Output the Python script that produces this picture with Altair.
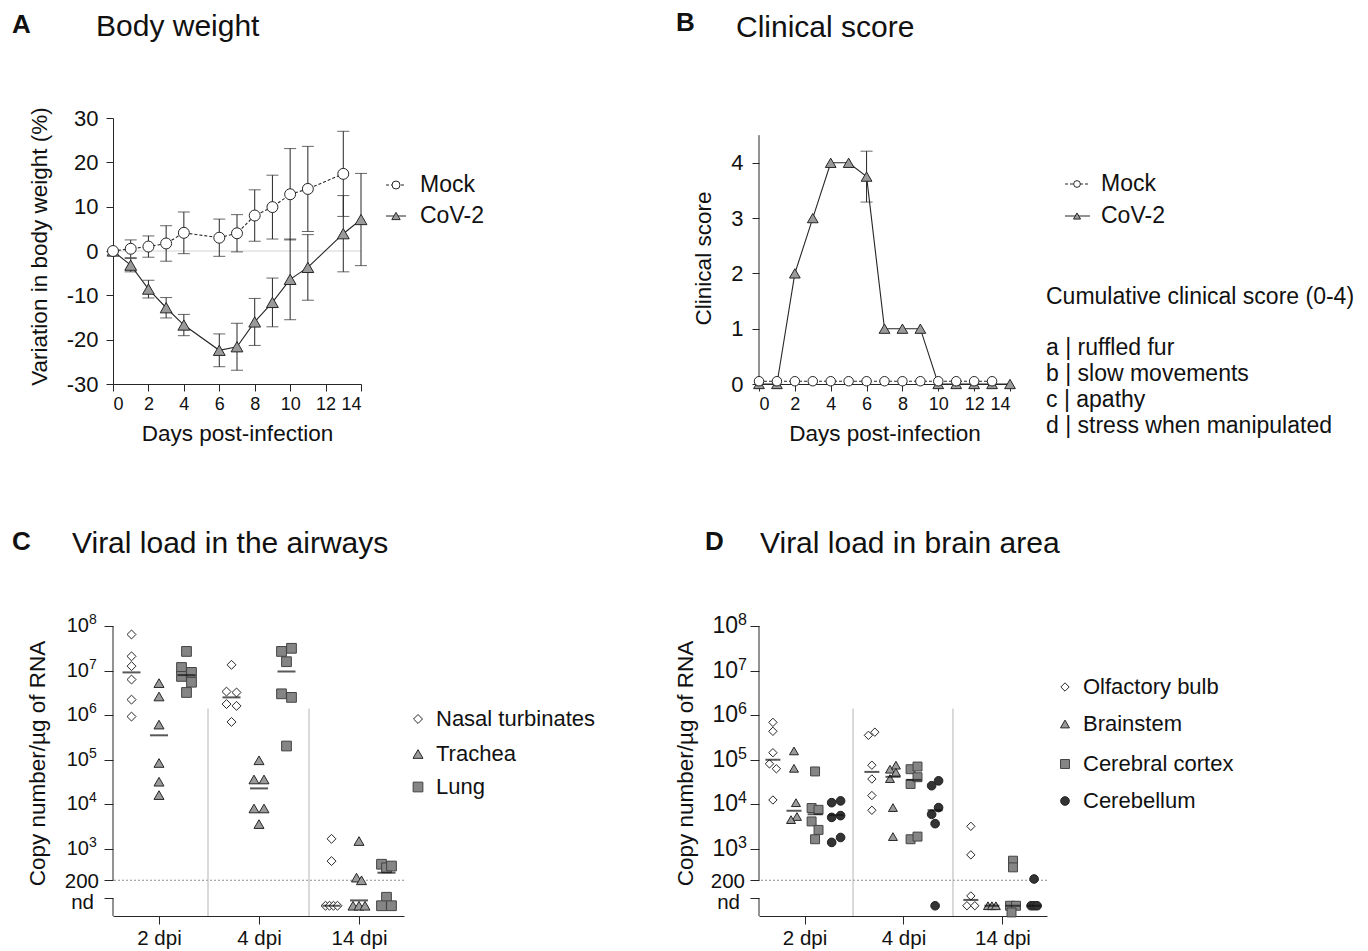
import math
import altair as alt
import pandas as pd

FONT = "Liberation Sans"
INK = "#262626"
TXT = "#111111"

# ======================= A. Body weight =======================
series_names = ["Mock", "CoV-2"]
a_mock_days = [0, 1, 2, 3, 4, 6, 7, 8, 9, 10, 11, 13]
a_mock_mean = [0.0, 0.5, 1.0, 1.7, 4.1, 3.0, 4.0, 8.0, 9.9, 12.8, 14.0, 17.4]
a_mock_sd = [0.0, 2.0, 2.4, 4.0, 4.7, 4.2, 4.2, 5.8, 7.2, 10.3, 9.6, 9.6]
a_cov_days = [0, 1, 2, 3, 4, 6, 7, 8, 9, 10, 11, 13, 14]
a_cov_mean = [0.0, -3.2, -8.6, -12.8, -16.7, -22.4, -21.6, -16.0, -11.6, -6.4, -3.7, 3.9, 7.1]
a_cov_sd = [0.0, 1.5, 2.0, 2.3, 2.4, 3.7, 5.3, 5.3, 5.5, 9.1, 7.4, 8.6, 10.4]
a_x_ticks = [0, 2, 4, 6, 8, 10, 12, 14]
a_y_ticks = [-30, -20, -10, 0, 10, 20, 30]

# ======================= B. Clinical score =======================
b_mock_days = [0, 1, 2, 3, 4, 5, 6, 7, 8, 9, 10, 11, 12, 13]
b_mock_score = [0.05, 0.05, 0.05, 0.05, 0.05, 0.05, 0.05, 0.05, 0.05, 0.05, 0.05, 0.05, 0.05, 0.05]
b_mock_err = [0, 0, 0, 0, 0, 0, 0, 0, 0, 0, 0, 0, 0, 0]
b_cov_days = [0, 1, 2, 3, 4, 5, 6, 7, 8, 9, 10, 11, 12, 13, 14]
b_cov_score = [0, 0, 2, 3, 4, 4, 3.75, 1, 1, 1, 0, 0, 0, 0, 0]
b_cov_err = [0, 0, 0, 0, 0, 0, 0.46, 0, 0, 0, 0, 0, 0, 0, 0]
b_x_ticks = [0, 2, 4, 6, 8, 10, 12, 14]
b_y_ticks = [0, 1, 2, 3, 4]
b_axis_top = 4.5
b_notes_title = "Cumulative clinical score (0-4)"
b_notes = ["a | ruffled fur", "b | slow movements", "c | apathy", "d | stress when manipulated"]

# ======================= C / D. Viral loads (log10 copies/µg RNA; None = nd) =======================
dpi_labels = ["2 dpi", "4 dpi", "14 dpi"]
LOD = 200

airway_tissues = ["Nasal turbinates", "Trachea", "Lung"]
c_nasal = [[7.81, 7.32, 7.10, 6.80, 6.35, 5.97], [7.13, 6.53, 6.51, 6.25, 6.21, 5.85], [3.23, 2.73, None, None, None, None]]
c_trachea = [[6.72, 6.42, 5.79, 4.93, 4.51, 4.21], [4.99, 4.56, 4.56, 3.91, 3.91, 3.56], [3.18, 2.36, 2.30, None, None, None]]
c_lung = [[7.43, 7.07, 6.96, 6.87, 6.74, 6.51], [7.43, 7.50, 7.20, 6.48, 6.40, 5.31], [2.66, 2.58, 2.62, 1.92, None, None]]
c_nasal_lane = [[0, 0, 0, 0, 0, 0], [0, -1, 1, -1, 1, 0], [0, 0, -1.2, -0.4, 0.4, 1.2]]
c_trachea_lane = [[0, 0, 0, 0, 0, 0], [0, -1, 1, -1, 1, 0], [0, -0.5, 0.5, -1.2, 0, 1.2]]
c_lung_lane = [[0, -1, 1, -1, 1, 0], [-1, 1, 0, -1, 1, 0], [-1, 0, 1, 0, -1, 1]]
c_nasal_median = [6.96, 6.40, None]
c_trachea_median = [5.55, 4.36, 1.85]
c_lung_median = [6.90, 6.98, 2.47]

brain_tissues = ["Olfactory bulb", "Brainstem", "Cerebral cortex", "Cerebellum"]
d_olf = [[5.84, 5.64, 5.16, 4.91, 4.80, 4.10], [5.55, 5.62, 4.88, 4.57, 4.20, 3.87], [3.51, 2.87, 1.95, None, None]]
d_bst = [[5.20, 4.81, 4.04, 3.73, 3.66], [4.79, 4.88, 4.58, 4.72, 3.93, 3.28], [None, None, None]]
d_ctx = [[4.74, 3.92, 3.88, 3.62, 3.43, 3.22], [4.79, 4.85, 4.46, 4.61, 3.22, 3.28], [2.74, 2.59, None, None, 1.58]]
d_cbl = [[4.04, 4.08, 3.71, 3.75, 3.15, 3.26], [4.42, 4.53, 3.78, 3.93, 3.57, None], [2.33, None, None, None]]
d_olf_lane = [[0, 0, 0, -0.7, 0.7, 0], [-0.7, 0.6, 0, 0, 0, 0], [0, 0, 0, -0.8, 0.8]]
d_bst_lane = [[0, 0, 0.4, 0.6, -0.6], [-0.6, 0.6, -0.6, 0.6, 0, 0], [-0.8, 0, 0.8]]
d_ctx_lane = [[0, -0.7, 0.7, -0.7, 0.7, 0], [-0.7, 0.7, -0.7, 0.7, -0.7, 0.7], [0, 0, -0.6, 0.6, -0.3]]
d_cbl_lane = [[-0.9, 0.9, -0.9, 0.9, -0.9, 0.9], [-0.7, 0.7, -0.7, 0.7, 0, 0], [0, -0.6, 0, 0.6]]
d_olf_median = [5.00, 4.73, 1.86]
d_bst_median = [3.86, 4.62, None]
d_ctx_median = [3.78, 4.55, None]
d_cbl_median = [3.76, 3.87, None]

LOD_LOG = math.log10(LOD)
ND_LOG = 1.73
ND_TICK = 1.9
LOG_MIN, LOG_MAX = 1.5, 8
log_ticks = [8, 7, 6, 5, 4, 3]
LANE = 0.05


def txt(text, x, y, size, weight="normal", align="left"):
    return alt.Chart(pd.DataFrame({"t": [text]})).mark_text(
        align=align, baseline="middle", font=FONT, fontSize=size, fontWeight=weight, color=TXT
    ).encode(x=alt.value(x), y=alt.value(y), text="t:N")


def sym(shape, fill, size, x, y, stroke=INK):
    return alt.Chart(pd.DataFrame({"t": [0]})).mark_point(
        shape=shape, filled=True, fill=fill, stroke=stroke, strokeWidth=1, size=size, opacity=1
    ).encode(x=alt.value(x), y=alt.value(y))


def line_legend(name, dash, shape, fill, size, x0, x1, xs, xt, y):
    kw = dict(color=INK, strokeWidth=1)
    if dash:
        kw["strokeDash"] = dash
    rule = alt.Chart(pd.DataFrame({"t": [0]})).mark_rule(**kw).encode(
        x=alt.value(x0), x2=alt.value(x1), y=alt.value(y))
    return [rule, sym(shape, fill, size, xs, y), txt(name, xt, y, 23)]


def series_frame(days, mean, err):
    df = pd.DataFrame({"day": days, "v": mean, "e": err})
    df["lo"] = df["v"] - df["e"]
    df["hi"] = df["v"] + df["e"]
    return df


def series_layers(df, xf, yf, shape, fill, dash, size, cap):
    layers = []
    err = df[df["e"] > 0]
    if len(err):
        layers.append(alt.Chart(err).mark_rule(color=INK, strokeWidth=1).encode(
            x=xf("day"), y=yf("lo"), y2=alt.Y2("hi")))
        for f in ("lo", "hi"):
            layers.append(alt.Chart(err).mark_tick(orient="horizontal", size=cap, thickness=1, color=INK).encode(
                x=xf("day"), y=yf(f)))
    kw = dict(color=INK, strokeWidth=1.1)
    if dash:
        kw["strokeDash"] = dash
    layers.append(alt.Chart(df).mark_line(**kw).encode(x=xf("day"), y=yf("v")))
    layers.append(alt.Chart(df).mark_point(shape=shape, filled=True, fill=fill, stroke=INK, strokeWidth=1,
                                           size=size, opacity=1).encode(x=xf("day"), y=yf("v")))
    return layers


# ---------------- Panel A ----------------
A_W, A_H = 248, 266
a_xs = alt.Scale(domain=[0, 14], nice=False, zero=False)
a_ys = alt.Scale(domain=[-30, 30], nice=False, zero=False)
a_xax = alt.Axis(values=a_x_ticks, title="Days post-infection", titleX=A_W / 2, titleY=49,
                 titleBaseline="middle", tickSize=7, labelPadding=4, labelFontSize=18)
a_yax = alt.Axis(values=a_y_ticks, title="Variation in body weight (%)", labelExpr="'' + datum.value",
                 titleX=-74, titleY=128, titleBaseline="middle", tickSize=7, labelPadding=8, labelFontSize=22)


def ax_a(f):
    return alt.X(f + ":Q", scale=a_xs, axis=a_xax)


def ay_a(f):
    return alt.Y(f + ":Q", scale=a_ys, axis=a_yax)


a_mock = series_frame(a_mock_days, a_mock_mean, a_mock_sd)
a_cov = series_frame(a_cov_days, a_cov_mean, a_cov_sd)
layers_a = [alt.Chart(pd.DataFrame({"v": [0]})).mark_rule(color="#d4d4d4", strokeWidth=1).encode(y=ay_a("v"))]
layers_a += series_layers(a_cov, ax_a, ay_a, "triangle-up", "#9a9a9a", None, 140, 12)
layers_a += series_layers(a_mock, ax_a, ay_a, "circle", "white", [3, 2], 120, 12)
layers_a += line_legend(series_names[0], [3, 2], "circle", "white", 64, 273, 293, 283, 307, 67)
layers_a += line_legend(series_names[1], None, "triangle-up", "#9a9a9a", 70, 273, 293, 283, 307, 98)
layers_a += [txt("A", -101, -93, 26, "bold"), txt("Body weight", -17, -91, 30)]
panel_a = alt.layer(*layers_a).properties(width=A_W, height=A_H)

# ---------------- Panel B ----------------
B_W, B_H = 251, 266
b_xs = alt.Scale(domain=[0, 14], nice=False, zero=False)
b_ys = alt.Scale(domain=[0, 4.81], nice=False, zero=False)
b_xax = alt.Axis(values=b_x_ticks, title="Days post-infection", titleX=B_W / 2, titleY=49,
                 titleBaseline="middle", tickSize=7, labelPadding=4, labelFontSize=18)
b_yax = alt.Axis(values=b_y_ticks, title="Clinical score", domain=False,
                 titleX=-56, titleY=140, titleBaseline="middle", tickSize=7, labelPadding=9, labelFontSize=22)


def ax_b(f):
    return alt.X(f + ":Q", scale=b_xs, axis=b_xax)


def ay_b(f):
    return alt.Y(f + ":Q", scale=b_ys, axis=b_yax)


b_mock = series_frame(b_mock_days, b_mock_score, b_mock_err)
b_cov = series_frame(b_cov_days, b_cov_score, b_cov_err)
layers_b = [alt.Chart(pd.DataFrame({"y0": [0], "y1": [b_axis_top]})).mark_rule(color=INK, strokeWidth=1).encode(
    x=alt.value(0), y=ay_b("y0"), y2=alt.Y2("y1"))]
layers_b += series_layers(b_cov, ax_b, ay_b, "triangle-up", "#9a9a9a", None, 115, 12)
layers_b += series_layers(b_mock, ax_b, ay_b, "circle", "white", [3, 2], 90, 12)
layers_b += line_legend(series_names[0], [3, 2], "circle", "white", 45, 306, 331, 318, 342, 66)
layers_b += line_legend(series_names[1], None, "triangle-up", "#9a9a9a", 50, 306, 331, 318, 342, 98)
layers_b += [txt(b_notes_title, 287, 179, 23)]
for i, note in enumerate(b_notes):
    layers_b.append(txt(note, 287, 230 + 26 * i, 23))
layers_b += [txt("B", -83, -95, 26, "bold"), txt("Clinical score", -23, -90, 30)]
panel_b = alt.layer(*layers_b).properties(width=B_W, height=B_H)

# ---------------- Panels C / D ----------------
DPI_LABELS = "[" + ",".join(f"'{d}'" for d in dpi_labels) + "][round(datum.value)]"


def viral_panel(tissues, values, lanes, medians, styles, sub, W, H, ytitle_x, legend_x, legend_ys,
                letter, letter_x, title, title_x, med_len, ten_size, exp_size, ten_x):
    xs = alt.Scale(domain=[-0.46, 2.45], nice=False, zero=False)
    ys = alt.Scale(domain=[LOG_MIN, LOG_MAX], nice=False, zero=False)
    xax = alt.Axis(values=[0, 1, 2], labelExpr=DPI_LABELS, tickSize=8, labelPadding=4, labelFontSize=20.5, title=None)
    yax = alt.Axis(values=log_ticks + [LOD_LOG, ND_TICK], labels=False, domain=False, tickSize=9,
                   title="Copy number/\u00b5g of RNA", titleX=ytitle_x,
                   titleY=H / 2 - 8, titleBaseline="middle")

    def X(f):
        return alt.X(f + ":Q", scale=xs, axis=xax)

    def Y(f):
        return alt.Y(f + ":Q", scale=ys, axis=yax)

    pow_df = pd.DataFrame({"y": log_ticks, "exp": [str(int(t)) for t in log_ticks]})
    lod_df = pd.DataFrame({"y": [LOD_LOG], "t": [str(LOD)]})
    nd_df = pd.DataFrame({"y": [ND_TICK], "t": ["nd"]})
    nT = len(tissues)
    layers = [
        alt.Chart(pd.DataFrame({"y": [LOD_LOG]})).mark_rule(color="#8c8c8c", strokeDash=[2, 2], strokeWidth=1).encode(
            y=Y("y")),
        alt.Chart(pd.DataFrame({"x": [0.49, 1.5], "top": [6.15, 6.15], "bottom": [LOG_MIN, LOG_MIN]})).mark_rule(
            color="#b4b4b4", strokeWidth=1).encode(x=X("x"), y=Y("top"), y2=alt.Y2("bottom")),
        alt.Chart(pd.DataFrame({"y0": [LOG_MAX, ND_TICK], "y1": [LOD_LOG, LOG_MIN]})).mark_rule(
            color=INK, strokeWidth=1).encode(x=alt.value(0), y=Y("y0"), y2=alt.Y2("y1")),
        alt.Chart(pow_df).mark_text(align="right", baseline="middle", font=FONT, fontSize=ten_size, color=TXT).encode(
            x=alt.value(ten_x), y=Y("y"), text=alt.value("10")),
        alt.Chart(pow_df).mark_text(align="left", baseline="middle", font=FONT, fontSize=exp_size, color=TXT,
                                    dy=-6).encode(x=alt.value(ten_x), y=Y("y"), text="exp:N"),
        alt.Chart(lod_df).mark_text(align="right", baseline="middle", font=FONT, fontSize=20.5, color=TXT,
                                    dy=2).encode(x=alt.value(-14), y=Y("y"), text="t:N"),
        alt.Chart(nd_df).mark_text(align="right", baseline="middle", font=FONT, fontSize=20.5, color=TXT,
                                   dy=5).encode(x=alt.value(-19), y=Y("y"), text="t:N"),
    ]
    for t, tissue in enumerate(tissues):
        off = (t - (nT - 1) / 2) * sub
        rows, mrows = [], []
        for g in range(len(dpi_labels)):
            for v, l in zip(values[t][g], lanes[t][g]):
                rows.append({"x": g + off + l * LANE, "y": ND_LOG if v is None else v})
            m = medians[t][g]
            mrows.append({"x": g + off, "y": ND_LOG if m is None else m})
        shape, fill, size, stroke = styles[t]
        layers.append(alt.Chart(pd.DataFrame(rows)).mark_point(
            shape=shape, filled=True, fill=fill, stroke=stroke, strokeWidth=1, size=size, opacity=1
        ).encode(x=X("x"), y=Y("y")))
        layers.append(alt.Chart(pd.DataFrame(mrows)).mark_tick(
            orient="horizontal", size=med_len, thickness=2, color="#111111").encode(x=X("x"), y=Y("y")))
        layers.append(sym(shape, fill, size, legend_x, legend_ys[t], stroke))
        layers.append(txt(tissue, legend_x + 18, legend_ys[t], 22))
    layers += [txt(letter, letter_x, -84, 26, "bold"), txt(title, title_x, -82, 30)]
    return alt.layer(*layers).properties(width=W, height=H)


panel_c = viral_panel(
    airway_tissues, [c_nasal, c_trachea, c_lung], [c_nasal_lane, c_trachea_lane, c_lung_lane],
    [c_nasal_median, c_trachea_median, c_lung_median],
    [("diamond", "white", 80, INK), ("triangle-up", "#9a9a9a", 100, INK), ("square", "#858585", 95, "#444444")],
    0.275, 291, 290, -76, 305, [93, 128, 161], "C", -101, "Viral load in the airways", -41, 18,
    20, 14, -24)

panel_d = viral_panel(
    brain_tissues, [d_olf, d_bst, d_ctx, d_cbl], [d_olf_lane, d_bst_lane, d_ctx_lane, d_cbl_lane],
    [d_olf_median, d_bst_median, d_ctx_median, d_cbl_median],
    [("diamond", "white", 70, INK), ("triangle-up", "#9a9a9a", 80, INK), ("square", "#858585", 80, "#444444"),
     ("circle", "#333333", 75, "#222222")],
    0.213, 288, 290, -74, 306, [61, 98, 138, 175], "D", -54, "Viral load in brain area", 1, 15,
    23, 16, -21)

chart = alt.concat(
    panel_a, panel_b, panel_c, panel_d, columns=2,
    spacing={"row": 242, "column": 355}, bounds="flush", align="each",
    padding={"left": 4, "top": 2, "right": 5, "bottom": 0},
).configure_view(stroke=None).configure_axis(
    labelFont=FONT, titleFont=FONT, labelFontSize=19, titleFontSize=22.5, titleFontWeight="normal",
    labelColor=TXT, titleColor=TXT, domainColor=INK, tickColor=INK, grid=False, domainWidth=1, tickWidth=1,
    labelOverlap=False,
)

chart.save("out.html", embed_options={"renderer": "svg", "actions": False})
